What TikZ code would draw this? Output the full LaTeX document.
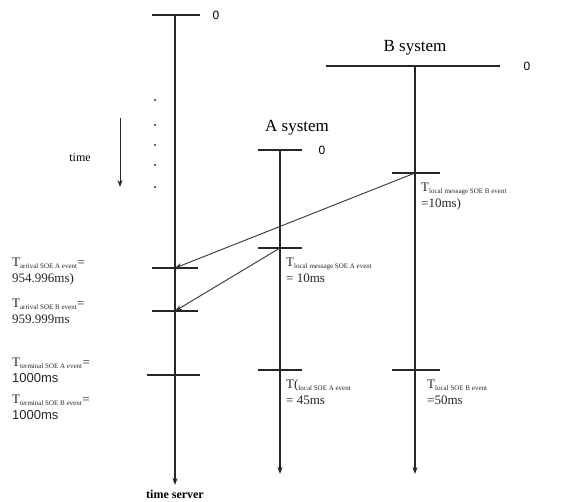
\documentclass[tikz,border=0pt]{standalone}
\usepackage{fontspec}
\setmainfont{Liberation Serif}
\setsansfont{Liberation Sans}
\usepackage{tikz}
\usetikzlibrary{arrows.meta, positioning}

\begin{document}
\begin{tikzpicture}[x=1pt, y=-1pt,
        axis/.style={-{Stealth[length=7pt, width=5pt]}, line width=1.2pt, black!85},
        bar/.style={-, line width=2pt, black!85},
        tick/.style={-, line width=1.2pt, black!85},
        msg/.style={-{Stealth[length=7pt, width=5pt]}, line width=0.9pt, black!80},
        title/.style={font=\fontsize{17}{19}\selectfont},
        zero/.style={font=\large\sffamily},
        label/.style={anchor=north west, align=left, inner sep=0pt, font=\fontsize{13}{16}\selectfont, text=black!85},
        dot/.style={circle, fill=black!80, inner sep=0pt, minimum size=2.2pt}
    ]
        \useasboundingbox (0,0) rectangle (561,502);

        % time server
        \coordinate (srv top) at (175,15);
        \coordinate (srv end) at (175,485);
        \draw[bar] (152,15) -- (200,15);
        \node[zero] (srv zero) at (216,15) {0};
        \draw[axis] (srv top) -- (srv end);
        \node[font=\large\bfseries] (srv name) at (175,494) {time server};

        % A system
        \coordinate (a top) at (280,150);
        \coordinate (a end) at (280,474);
        \draw[bar] (258,150) -- (302,150);
        \node[title] (a name) at (297,128) {A system};
        \node[zero] (a zero) at (322,150) {0};
        \draw[axis] (a top) -- (a end);

        % B system
        \coordinate (b top) at (415,66);
        \coordinate (b end) at (415,474);
        \draw[bar] (326,66) -- (500,66);
        \node[title] (b name) at (415,48) {B system};
        \node[zero] (b zero) at (527,66) {0};
        \draw[axis] (b top) -- (b end);

        % time direction
        \coordinate (time top) at (120,118);
        \coordinate (time end) at (120,187);
        \node[font=\large] (time) at (80,158) {time};
        \draw[axis, line width=1pt] (time top) -- (time end);
        \foreach \y in {100,125,145,165,187}
            \node[dot] at (155,\y) {};

        % events on the clocks
        \coordinate (b send) at (415,173);
        \coordinate (a send) at (280,248);
        \coordinate (b recv) at (175,268);
        \coordinate (a recv) at (175,311);
        \draw[tick] (392,173) -- (440,173);
        \draw[tick] (258,248) -- (302,248);
        \draw[tick] (152,268) -- (198,268);
        \draw[tick] (152,311) -- (198,311);
        \draw[bar] (147,375) -- (200,375);
        \draw[bar] (258,370) -- (302,370);
        \draw[bar] (392,370) -- (440,370);

        \draw[msg] (b send) -- (b recv);
        \draw[msg] (a send) -- (a recv);

        % labels
        \node[label] (l1) at (12,258) {T\textsubscript{\scriptsize arrival SOE A event}=\\954.996ms)};
        \node[label] (l2) at (12,299) {T\textsubscript{\scriptsize arrival SOE B event}=\\959.999ms};
        \node[label] (l3) at (12,358) {T\textsubscript{\scriptsize terminal SOE A event}=\\\textsf{1000ms}};
        \node[label] (l4) at (12,395) {T\textsubscript{\scriptsize terminal SOE B event}=\\\textsf{1000ms}};

        \node[label] (ra) at (286,258) {T\textsubscript{\scriptsize local message SOE A event}\\= 10ms};
        \node[label] (rb) at (421,183) {T\textsubscript{\scriptsize local message SOE B event}\\=10ms)};
        \node[label] (la) at (286,379) {T(\textsubscript{\scriptsize local SOE A event}\\= 45ms};
        \node[label] (lb) at (427,380) {T\textsubscript{\scriptsize local SOE B event}\\=50ms};
    \end{tikzpicture}
\end{document}
